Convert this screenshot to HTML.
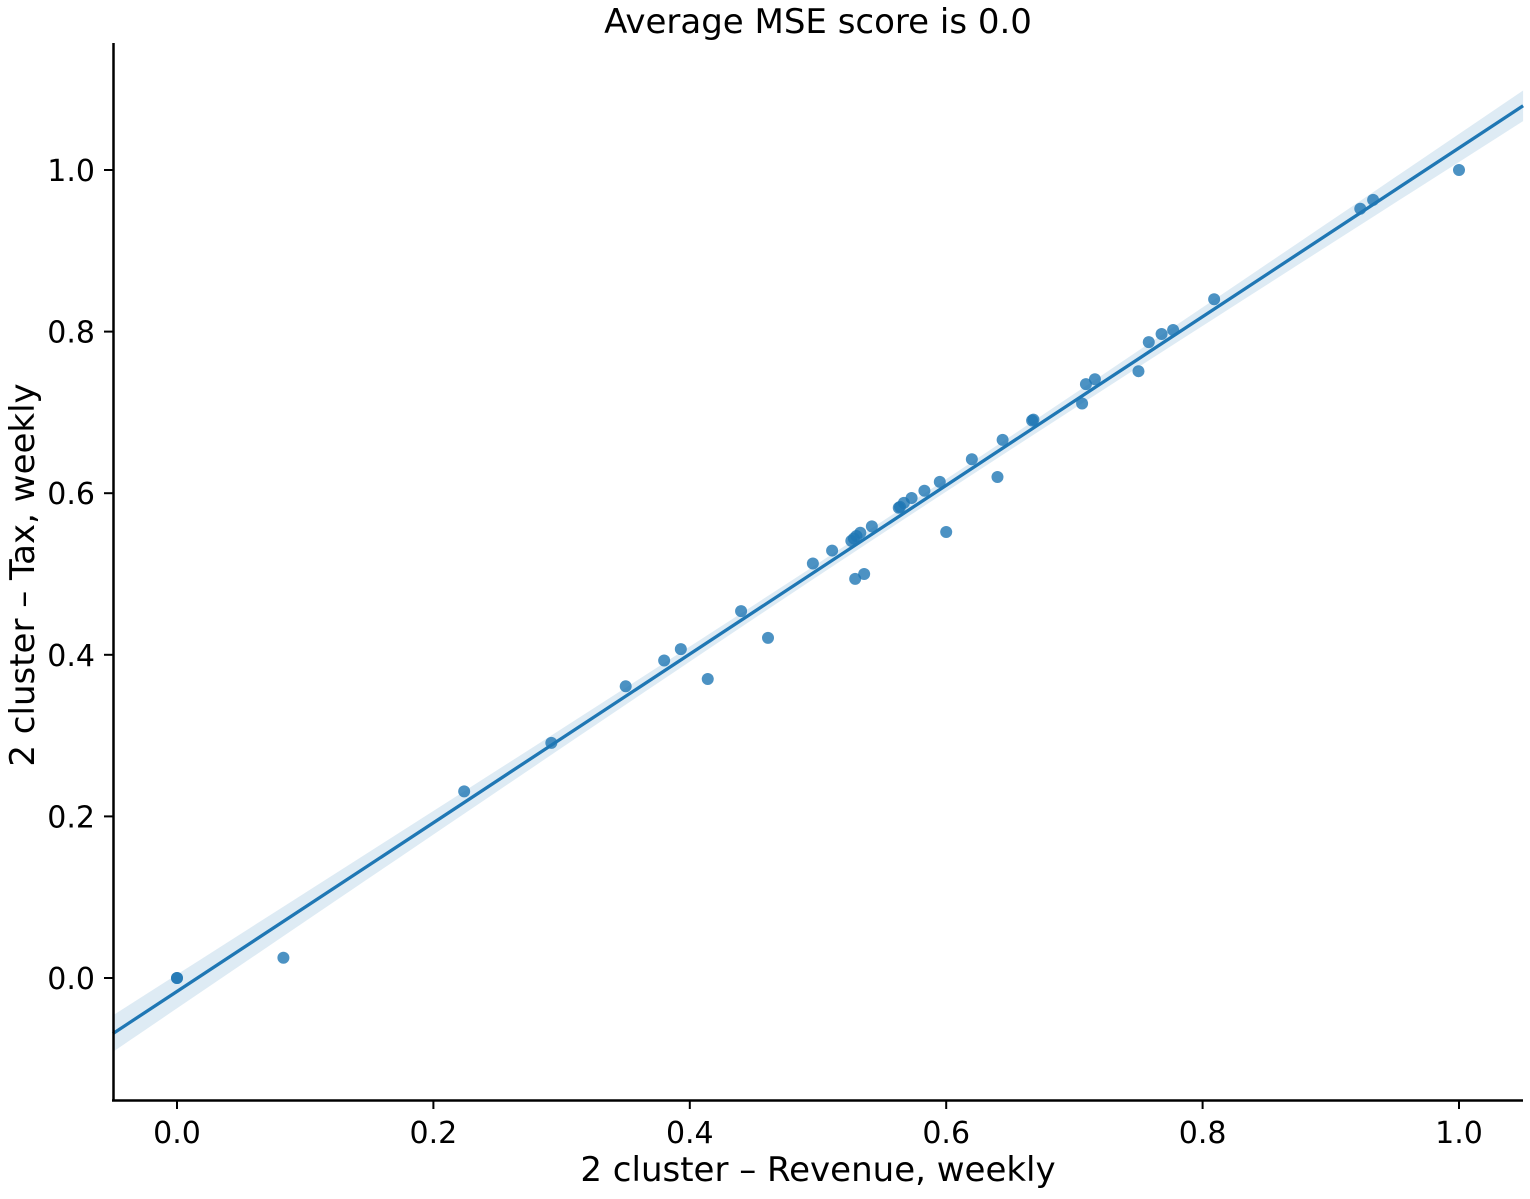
<!DOCTYPE html>
<html><head><meta charset="utf-8"><style>
html,body{margin:0;padding:0;background:#fff;}
svg text{font-family:"DejaVu Sans","Liberation Sans",sans-serif;fill:#000;}
</style></head><body>
<svg id="chart" width="1530" height="1194" xmlns="http://www.w3.org/2000/svg">
<text x="818" y="33" font-size="34" text-anchor="middle">Average MSE score is 0.0</text>
<g id="band"></g><g id="pts"></g><g id="line"></g><g id="axes"></g>
<text x="818" y="1181" font-size="34" text-anchor="middle">2 cluster – Revenue, weekly</text>
<text x="0" y="0" font-size="34" text-anchor="middle" transform="translate(34,575) rotate(-90)">2 cluster – Tax, weekly</text>
</svg>
<script>
const xVals=[0,0,0.083,0.224,0.292,0.350,0.380,0.393,0.414,0.440,0.461,0.496,0.511,0.526,0.528,0.530,0.533,0.529,0.536,0.542,0.563,0.564,0.567,0.573,0.583,0.595,0.600,0.620,0.640,0.644,0.667,0.668,0.706,0.709,0.716,0.750,0.758,0.768,0.777,0.809,0.923,0.933,1.0];
const yVals=[0,0,0.025,0.231,0.291,0.361,0.393,0.407,0.370,0.454,0.421,0.513,0.529,0.541,0.544,0.547,0.551,0.494,0.500,0.559,0.582,0.583,0.588,0.594,0.603,0.614,0.552,0.642,0.620,0.666,0.690,0.691,0.711,0.735,0.741,0.751,0.787,0.797,0.802,0.840,0.952,0.963,1.0];
const xTicks=[0,0.2,0.4,0.6,0.8,1.0];
const yTicks=[0,0.2,0.4,0.6,0.8,1.0];
const X=v=>177+v*1282, Y=v=>978-v*808;
const NS="http://www.w3.org/2000/svg";
function mk(t,a,p){const e=document.createElementNS(NS,t);for(const k in a)e.setAttribute(k,a[k]);p.appendChild(e);return e;}
const n=xVals.length,mx=xVals.reduce((a,b)=>a+b)/n,my=yVals.reduce((a,b)=>a+b)/n;
let sxx=0,sxy=0;for(let i=0;i<n;i++){sxx+=(xVals[i]-mx)**2;sxy+=(xVals[i]-mx)*(yVals[i]-my);}
const b=sxy/sxx,a=my-b*mx;
let sse=0;for(let i=0;i<n;i++)sse+=(yVals[i]-a-b*xVals[i])**2;
const s=Math.sqrt(sse/(n-2));
const x0=-0.05,x1=1.05;
let up=[],lo=[];
for(let k=0;k<=50;k++){const x=x0+(x1-x0)*k/50;const se=2.3*s*Math.sqrt(1/n+(x-mx)**2/sxx);const yh=a+b*x;
up.push(X(x)+","+Y(yh+se));lo.unshift(X(x)+","+Y(yh-se));}
const band=mk("polygon",{points:up.concat(lo).join(" "),fill:"#1f77b4","fill-opacity":"0.15"},document.getElementById("band"));


const ln=mk("line",{x1:X(x0),y1:Y(a+b*x0),x2:X(x1),y2:Y(a+b*x1),stroke:"#1f77b4","stroke-width":"3.3"},document.getElementById("line"));


const pg=document.getElementById("pts");
for(let i=0;i<n;i++){const c=mk("circle",{cx:X(xVals[i]),cy:Y(yVals[i]),r:6,fill:"#1f77b4","fill-opacity":"0.8"},pg);

}
const ax=document.getElementById("axes");
const la=mk("line",{x1:113.5,y1:43,x2:113.5,y2:1101.5,stroke:"#000","stroke-width":"2.5"},ax);


const lb=mk("line",{x1:112,y1:1100.5,x2:1523,y2:1100.5,stroke:"#000","stroke-width":"2.5"},ax);


xTicks.forEach(v=>{mk("line",{x1:X(v),y1:1100,x2:X(v),y2:1109,stroke:"#000","stroke-width":"2"},ax);
const t=mk("text",{x:X(v),y:1143,"font-size":"30","text-anchor":"middle"},ax);t.textContent=v.toFixed(1);

});
yTicks.forEach(v=>{mk("line",{x1:104,y1:Y(v),x2:113,y2:Y(v),stroke:"#000","stroke-width":"2"},ax);
const t=mk("text",{x:95,y:Y(v)+11,"font-size":"30","text-anchor":"end"},ax);t.textContent=v.toFixed(1);

});
</script>
</body></html>
